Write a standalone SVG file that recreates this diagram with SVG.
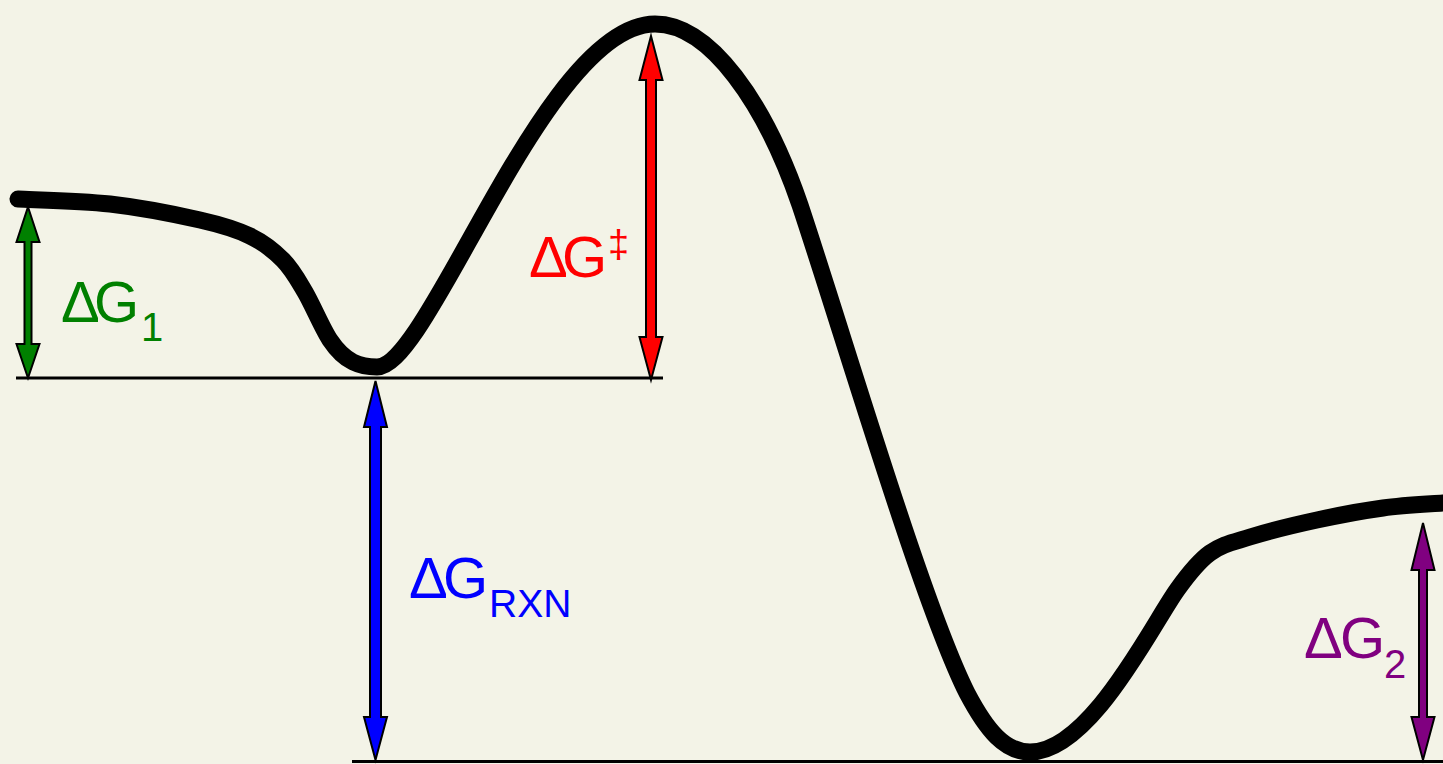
<svg xmlns="http://www.w3.org/2000/svg" width="1443" height="764" viewBox="0 0 1443 764">
<style>
.lbl{font-family:"Liberation Sans",Arial,sans-serif;font-size:58px}
.sub{font-size:40px}
.arr{stroke:#000;stroke-width:2;stroke-linejoin:miter}
.base{stroke:#000;stroke-width:3;fill:none}
</style>
<rect width="1443" height="764" fill="#f3f3e7"/>
<g id="baselines">
<line class="base" x1="16" y1="378" x2="663" y2="378"/>
<line class="base" x1="352" y1="761.5" x2="1443" y2="761.5"/>
</g>
<g id="energy-curve">
<path d="M18,199 C33.3,199.8 79.7,200.5 110,204 C140.3,207.5 176.7,214.7 200,220 C223.3,225.3 236.2,229.3 250,236 C263.8,242.7 273.8,250.7 283,260 C292.2,269.3 297.2,278.7 305,292 C312.8,305.3 322.2,328.3 330,340 C337.8,351.7 345,358 353,362 C361,366 370,367 377,367 C430,367 545,24 655,24 C710,24 765,103 800,205 C845,340 922,603 967,693 C987,731 1005,752 1030,752 C1090,752 1152,625 1177,590 C1188.2,574.3 1197.8,561.8 1210,553 C1222.2,544.2 1232.2,542.5 1250,537 C1267.8,531.5 1294.8,524.8 1317,520 C1339.2,515.2 1362,510.8 1383,508 C1404,505.2 1430.2,504 1443,503 C1455.8,502 1457,501.8 1460,502" fill="none" stroke="#000" stroke-width="17" stroke-linecap="round" stroke-linejoin="round"/>
</g>
<g id="connectors">
<polygon id="arrow-g1" class="arr" fill="#008000" points="28,207 39.5,242 31.5,242 31.5,344 39.5,344 28,378 16.5,344 24.5,344 24.5,242 16.5,242"/>
<polygon id="arrow-gts" class="arr" fill="#ff0000" points="651,36 662.5,80 656,80 656,337 662.5,337 651,380 639.5,337 646,337 646,80 639.5,80"/>
<polygon id="arrow-grxn" class="arr" fill="#0000ff" points="375.5,381 387,427 381,427 381,717 387,717 375.5,760 364,717 370,717 370,427 364,427"/>
<polygon id="arrow-g2" class="arr" fill="#800080" points="1423,523 1434.5,570 1427,570 1427,717 1434.5,717 1423,760 1411.5,717 1419,717 1419,570 1411.5,570"/>
</g>
<g id="label-g1">
<text class="lbl" fill="#008000" x="61" y="322">Δ<tspan x="94">G</tspan><tspan class="sub" x="141" y="341">1</tspan></text>
</g>
<g id="label-gts">
<text class="lbl" fill="#ff0000" x="529" y="277">Δ<tspan x="562">G</tspan><tspan style="font-size:38px" x="608" y="257">‡</tspan></text>
</g>
<g id="label-grxn">
<text class="lbl" fill="#0000ff" x="409" y="598">Δ<tspan x="443">G</tspan><tspan style="font-size:39px" x="489" y="617">RXN</tspan></text>
</g>
<g id="label-g2">
<text class="lbl" fill="#800080" x="1304" y="658">Δ<tspan x="1340">G</tspan><tspan class="sub" x="1384" y="678">2</tspan></text>
</g>
</svg>
